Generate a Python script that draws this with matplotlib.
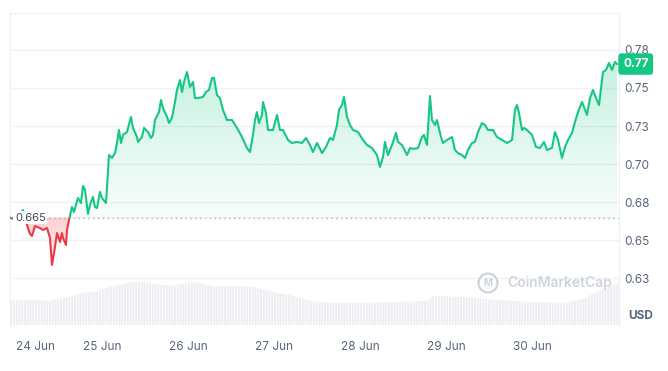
import matplotlib
matplotlib.use('Agg')
import matplotlib.pyplot as plt
import numpy as np
from matplotlib.path import Path
from matplotlib.patches import PathPatch, Rectangle, Circle
from matplotlib.colors import to_rgb

plt.rcParams['font.family'] = ['Inter', 'DejaVu Sans']
plt.rcParams['hatch.linewidth'] = 0.6

# hours since 24 Jun 00:00, price in USD
hours = [-1.67, -0.56, 1.12, 1.95, 2.79, 3.91, 4.47, 5.30, 6.70, 7.53,
         8.65, 9.49, 10.05, 10.88, 11.44, 12.28, 12.84, 13.12, 13.95, 14.23,
         14.79, 15.63, 16.19, 16.74, 17.30, 18.14, 18.70, 19.26, 20.09, 20.65,
         21.49, 22.05, 22.60, 23.44, 24.00, 25.12, 25.95, 26.79, 27.63, 28.19,
         28.74, 29.30, 29.86, 30.98, 32.09, 32.65, 33.77, 34.05, 35.16, 35.72,
         36.84, 37.67, 38.23, 38.79, 39.91, 40.47, 41.02, 42.14, 42.70, 43.53,
         44.37, 44.93, 45.77, 46.33, 46.88, 47.72, 48.56, 49.40, 49.95, 50.79,
         52.19, 53.02, 53.86, 54.70, 55.26, 56.09, 56.93, 57.77, 58.88, 60.28,
         61.67, 63.07, 64.46, 65.30, 66.14, 66.70, 67.25, 67.81, 68.65, 68.93,
         69.77, 70.33, 71.72, 72.84, 73.67, 74.51, 75.91, 77.02, 78.42, 79.81,
         80.93, 82.05, 82.88, 84.00, 85.40, 86.51, 87.63, 88.47, 89.58, 90.14,
         90.98, 91.53, 92.37, 93.21, 94.05, 95.44, 96.84, 97.95, 99.35, 100.74,
         101.58, 102.42, 102.98, 103.81, 104.93, 106.05, 106.60, 107.72, 109.12, 109.95,
         110.79, 112.19, 113.30, 113.86, 114.70, 115.53, 116.09, 116.93, 117.49, 118.60,
         119.16, 120.28, 121.67, 122.51, 123.35, 124.47, 125.30, 126.14, 127.26, 128.09,
         128.93, 130.05, 130.88, 131.72, 133.12, 134.23, 135.63, 137.02, 138.42, 139.26,
         139.81, 140.37, 141.21, 141.77, 142.61, 144.00, 145.12, 146.23, 147.35, 148.19,
         149.58, 150.42, 151.26, 152.37, 153.21, 154.05, 155.16, 156.00, 156.84, 157.95,
         158.51, 159.35, 160.19, 161.02, 161.86, 162.70, 163.81, 164.65, 165.49, 166.33,
         167.16, 167.72]
price = [0.6650, 0.6640, 0.6673, 0.6699, 0.6621, 0.6542, 0.6529, 0.6594, 0.6581, 0.6568,
         0.6581, 0.6516, 0.6339, 0.6457, 0.6548, 0.6489, 0.6548, 0.6516, 0.6470, 0.6568,
         0.6634, 0.6719, 0.6686, 0.6732, 0.6778, 0.6745, 0.6857, 0.6831, 0.6673, 0.6732,
         0.6785, 0.6719, 0.6712, 0.6818, 0.6778, 0.6745, 0.7060, 0.7041, 0.7073, 0.7139,
         0.7224, 0.7139, 0.7192, 0.7211, 0.7310, 0.7238, 0.7178, 0.7146, 0.7178, 0.7238,
         0.7211, 0.7172, 0.7192, 0.7290, 0.7342, 0.7421, 0.7369, 0.7310, 0.7270, 0.7303,
         0.7408, 0.7487, 0.7552, 0.7474, 0.7539, 0.7605, 0.7507, 0.7539, 0.7434, 0.7434,
         0.7441, 0.7474, 0.7487, 0.7566, 0.7566, 0.7454, 0.7434, 0.7356, 0.7290, 0.7290,
         0.7238, 0.7178, 0.7106, 0.7080, 0.7192, 0.7290, 0.7342, 0.7270, 0.7323, 0.7408,
         0.7336, 0.7224, 0.7224, 0.7323, 0.7224, 0.7224, 0.7159, 0.7139, 0.7146, 0.7139,
         0.7172, 0.7126, 0.7080, 0.7139, 0.7073, 0.7113, 0.7172, 0.7159, 0.7257, 0.7356,
         0.7388, 0.7441, 0.7310, 0.7257, 0.7224, 0.7211, 0.7159, 0.7126, 0.7106, 0.7060,
         0.6982, 0.7047, 0.7146, 0.7060, 0.7126, 0.7205, 0.7146, 0.7126, 0.7060, 0.7106,
         0.7100, 0.7106, 0.7178, 0.7192, 0.7126, 0.7447, 0.7290, 0.7257, 0.7290, 0.7178,
         0.7139, 0.7159, 0.7178, 0.7093, 0.7073, 0.7060, 0.7041, 0.7093, 0.7139, 0.7146,
         0.7211, 0.7270, 0.7257, 0.7224, 0.7224, 0.7178, 0.7159, 0.7139, 0.7159, 0.7356,
         0.7388, 0.7336, 0.7224, 0.7238, 0.7224, 0.7192, 0.7113, 0.7106, 0.7146, 0.7093,
         0.7106, 0.7211, 0.7159, 0.7041, 0.7113, 0.7159, 0.7205, 0.7277, 0.7342, 0.7408,
         0.7375, 0.7323, 0.7434, 0.7487, 0.7434, 0.7388, 0.7605, 0.7618, 0.7664, 0.7618,
         0.7671, 0.7657]

# volume (relative units)
vol_hours = [-1.67, 4.74, 9.49, 14.23, 18.70, 23.44, 27.07, 32.65, 35.44, 40.19,
             43.81, 49.40, 54.98, 60.56, 66.14, 71.72, 77.30, 82.05, 88.47, 96.84,
             106.33, 114.70, 116.37, 124.74, 134.23, 143.44, 152.65, 158.23, 162.14, 166.61,
             168.28]
volume = [25, 25, 24, 28, 32, 34, 39, 43, 43, 40,
          39, 43, 39, 39, 38, 33, 29, 24, 22, 22,
          23, 24, 29, 28, 25, 23, 22, 26, 33, 39,
          43]

day_ticks = [0, 24, 48, 72, 96, 120, 144]
day_labels = ['24 Jun', '25 Jun', '26 Jun', '27 Jun', '28 Jun', '29 Jun', '30 Jun']
price_ticks = [0.625, 0.65, 0.675, 0.70, 0.725, 0.75, 0.775]
price_labels = ['0.63', '0.65', '0.68', '0.70', '0.73', '0.75', '0.78']

GREEN = '#16c784'
RED = '#ea3943'
GREY = '#58667e'

base = price[0]
xmin, xmax = -1.67, 168.28
ymin, ymax = 0.5938, 0.7992

fig = plt.figure(figsize=(6.68, 3.71), dpi=100)
rect = [10 / 668, 45 / 371, 609 / 668, 313 / 371]

# volume underneath
ax_vol = fig.add_axes(rect)
ax_vol.fill_between(vol_hours, volume, 0, facecolor='#eceef2', edgecolor='white',
                    hatch='||||||', linewidth=0)
ax_vol.set_xlim(xmin, xmax)
ax_vol.set_ylim(-1, 312)
ax_vol.axis('off')

ax = fig.add_axes(rect)
ax.patch.set_alpha(0)

# gradient fills between price and baseline
poly = Path(np.column_stack([np.r_[hours[0], hours, hours[-1]],
                             np.r_[base, price, base]]))
clip = PathPatch(poly, transform=ax.transData, facecolor='none', edgecolor='none')
ax.add_patch(clip)


def gradient(color, a0, a1):
    g = np.zeros((256, 1, 4))
    g[..., :3] = to_rgb(color)
    g[:, 0, 3] = np.linspace(a0, a1, 256)
    return g


im = ax.imshow(gradient(GREEN, 0.03, 0.24), extent=(hours[0], hours[-1], base, max(price)),
               origin='lower', aspect='auto', zorder=1, interpolation='bilinear')
im.set_clip_path(clip)
im = ax.imshow(gradient(RED, 0.04, 0.24), extent=(hours[0], hours[-1], min(price), base),
               origin='lower', aspect='auto', zorder=1, interpolation='bilinear')
im.set_clip_path(clip)

# price line, green above baseline, red below
for color, y0, y1 in [(GREEN, base, 1.0), (RED, 0.0, base)]:
    ln, = ax.plot(hours, price, color=color, lw=1.5, zorder=3, solid_joinstyle='round')
    ln.set_clip_path(Rectangle((xmin, y0), xmax - xmin, y1 - y0, transform=ax.transData))

ax.axhline(base, color='#a6b0c3', lw=1, ls=(0, (1, 2.5)), zorder=2)
ax.annotate(f'{base:.3f}', xy=(hours[0], base), xytext=(5, 0), textcoords='offset pixels',
            ha='left', va='center', fontsize=8, color='#3d4556', zorder=5,
            bbox=dict(fc='white', ec='none', pad=1.2))

ax.annotate(f'{price[-1]:.2f}', xy=(1, price[-1]), xycoords=('axes fraction', 'data'),
            xytext=(4, 0), textcoords='offset pixels', ha='left', va='center',
            fontsize=8.5, fontweight='bold', color='white', zorder=6, annotation_clip=False,
            bbox=dict(boxstyle='round,pad=0.4,rounding_size=0.25', fc=GREEN, ec='none'))

ax.set_xlim(xmin, xmax)
ax.set_ylim(ymin, ymax)
ax.yaxis.tick_right()
ax.set_yticks(price_ticks, price_labels)
ax.set_xticks(day_ticks, day_labels)
ax.get_xticklabels()[0].set_ha('left')
ax.tick_params(axis='y', length=0, pad=3.6, labelsize=8.5, labelcolor=GREY)
ax.tick_params(axis='x', length=0, pad=11, labelsize=8.5, labelcolor=GREY)
ax.grid(axis='y', color='#eff2f5', lw=1)
ax.set_axisbelow(True)
for s in ['top', 'left', 'right']:
    ax.spines[s].set_color('#eceff3')
ax.spines['bottom'].set_visible(False)

fig.text(641 / 668, 1 - 316 / 371, 'USD', ha='center', va='center', fontsize=8.5,
         fontweight='bold', color=GREY)

# watermark
fig.text(507 / 668, 1 - 283 / 371, 'CoinMarketCap', ha='left', va='center', fontsize=10,
         fontweight='semibold', color='#cfd4dc')
fig.add_artist(Circle((4.88, 0.88), 0.095, transform=fig.dpi_scale_trans, fill=False,
                      ec='#cfd4dc', lw=1.6))
fig.text(488 / 668, 1 - 283 / 371, 'M', ha='center', va='center', fontsize=7,
         fontweight='bold', color='#cfd4dc')

fig.savefig('out.png', dpi=100, facecolor='white')
